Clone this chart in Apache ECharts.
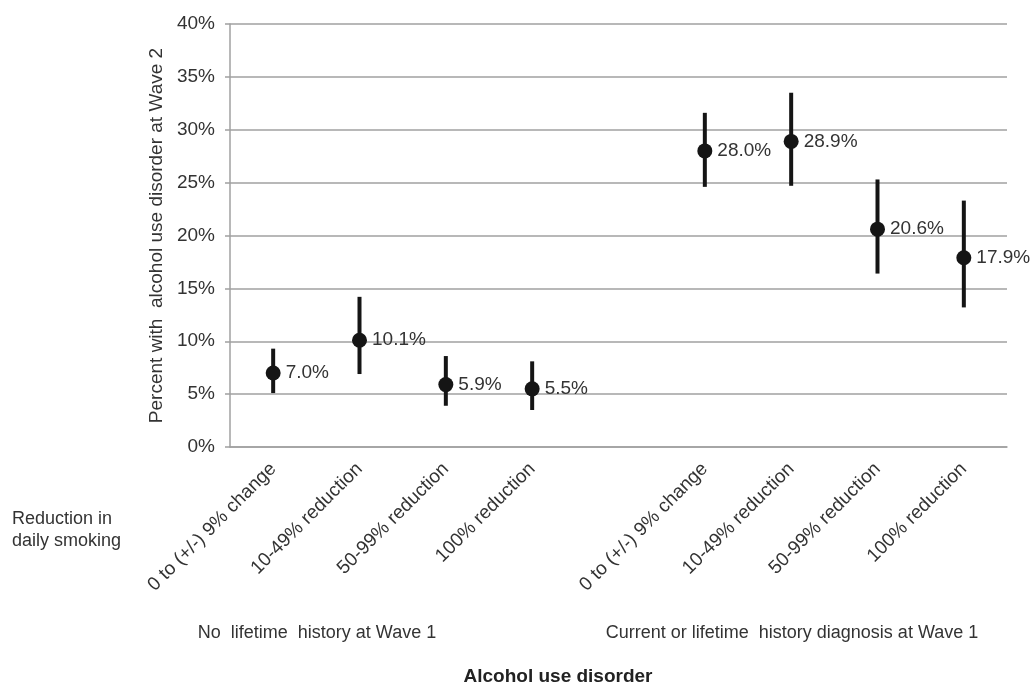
<!DOCTYPE html>
<html>
<head>
<meta charset="utf-8">
<script src="https://cdn.jsdelivr.net/npm/echarts@6/dist/echarts.min.js"></script>
<style>
  html, body { margin: 0; padding: 0; background: #fff; }
  #main { width: 1036px; height: 688px; }
</style>
</head>
<body>
<div id="main"></div>
<script>
// categories (middle one left empty as a gap between the two groups)
var categories = [
  '0 to (+/-) 9% change', '10-49% reduction', '50-99% reduction', '100% reduction',
  '',
  '0 to (+/-) 9% change', '10-49% reduction', '50-99% reduction', '100% reduction'
]
var estimate = [7.0, 10.1, 5.9, 5.5, null, 28.0, 28.9, 20.6, 17.9]
var lower = [5.1, 6.9, 3.9, 3.5, null, 24.6, 24.7, 16.4, 13.2]
var upper = [9.3, 14.2, 8.6, 8.1, null, 31.6, 33.5, 25.3, 23.3]
var yTicks = [0, 5, 10, 15, 20, 25, 30, 35, 40]

var textColor = '#333'
var gridColor = '#a0a0a0'
var font = 'Liberation Sans, Arial, sans-serif'

var pointData = []
var barData = []
for (var i = 0; i < categories.length; i++) {
  if (estimate[i] == null) continue
  pointData.push([i, estimate[i]])
  barData.push([i, lower[i], upper[i]])
}

var chart = echarts.init(document.getElementById('main'))
chart.setOption({
  animation: false,
  textStyle: { fontFamily: font },
  grid: { left: 230, right: 29, top: 24, bottom: 241 },
  xAxis: {
    type: 'category',
    data: categories,
    axisLine: { lineStyle: { color: gridColor, width: 1.5 } },
    axisTick: { show: false },
    axisLabel: {
      interval: 0,
      rotate: 45,
      margin: 19,
      fontSize: 19,
      color: textColor,
      fontFamily: font
    }
  },
  yAxis: {
    type: 'value',
    min: yTicks[0],
    max: yTicks[yTicks.length - 1],
    interval: 5,
    name: 'Percent with  alcohol use disorder at Wave 2',
    nameLocation: 'middle',
    nameGap: 63,
    nameTextStyle: { fontSize: 19, color: textColor, fontFamily: font },
    axisLine: { show: true, lineStyle: { color: gridColor, width: 1.5 } },
    axisTick: { show: true, length: 5, lineStyle: { color: gridColor, width: 1.5 } },
    axisLabel: {
      formatter: '{value}%',
      fontSize: 19,
      margin: 15,
      color: textColor,
      fontFamily: font
    },
    splitLine: { lineStyle: { color: gridColor, width: 1.5 } }
  },
  series: [
    {
      type: 'custom',
      data: barData,
      renderItem: function (params, api) {
        var p1 = api.coord([api.value(0), api.value(1)])
        var p2 = api.coord([api.value(0), api.value(2)])
        return {
          type: 'line',
          shape: { x1: p1[0], y1: p1[1], x2: p2[0], y2: p2[1] },
          style: { stroke: '#151515', lineWidth: 4 }
        }
      },
      z: 2
    },
    {
      type: 'scatter',
      data: pointData,
      symbol: 'circle',
      symbolSize: 15,
      itemStyle: { color: '#151515', opacity: 1 },
      label: {
        show: true,
        position: 'right',
        distance: 5,
        formatter: function (p) { return p.value[1].toFixed(1) + '%' },
        fontSize: 19,
        color: textColor,
        fontFamily: font
      },
      z: 3
    }
  ],
  graphic: [
    {
      type: 'text', left: 12, top: 508,
      style: { text: 'Reduction in\ndaily smoking', lineHeight: 22, fill: textColor, font: '18px ' + font }
    },
    {
      type: 'text', x: 317, y: 633,
      style: { text: 'No  lifetime  history at Wave 1', fill: textColor, font: '18px ' + font, align: 'center', verticalAlign: 'middle' }
    },
    {
      type: 'text', x: 792, y: 633,
      style: { text: 'Current or lifetime  history diagnosis at Wave 1', fill: textColor, font: '18px ' + font, align: 'center', verticalAlign: 'middle' }
    },
    {
      type: 'text', x: 558, y: 677,
      style: { text: 'Alcohol use disorder', fill: '#222', font: 'bold 19px ' + font, align: 'center', verticalAlign: 'middle' }
    }
  ]
})
</script>
</body>
</html>
